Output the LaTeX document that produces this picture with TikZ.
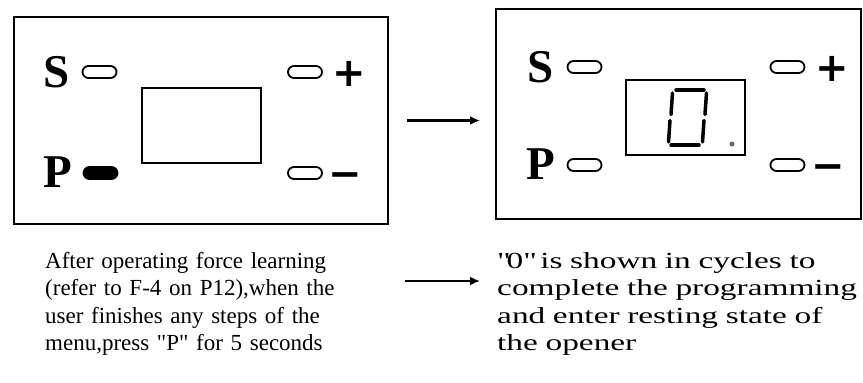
\documentclass[tikz,border=0pt]{standalone}
\usepackage{fontspec}
\setmainfont{Liberation Serif}
\newfontfamily\widefont{Liberation Serif}[FakeStretch=1.45]
\newfontfamily\signfont{DejaVu Sans}
\usetikzlibrary{positioning,arrows.meta}

\begin{document}
\begin{tikzpicture}[x=1pt, y=-1pt,
    panel/.style={draw, line width=2, inner sep=0, anchor=north west},
    lcd/.style={draw, line width=1.8, minimum width=119, minimum height=75, inner sep=0},
    key/.style={draw, line width=1.8, rounded corners=6, minimum width=34, minimum height=12, inner sep=0},
    keyon/.style={key, fill=black},
    keyname/.style={font=\fontsize{47}{47}\selectfont\bfseries, inner sep=0},
    sign/.style={font=\fontsize{40}{40}\signfont\bfseries, inner sep=0, anchor=base},
    note/.style={font=\fontsize{23}{27.5}\selectfont, align=left, anchor=north west, inner sep=0},
    segment/.style={line width=3.5, line cap=round},
    flow/.style={-{Latex[length=10,width=9]}, line width=2.5}]

    \useasboundingbox (0,0) rectangle (863,383);

    % Pannello prima: P tenuto premuto
    \node[panel, minimum width=374, minimum height=207] (panelA) at (13,16) {};
    \node[keyname] (sA) at (57,72) {S};
    \node[key] (skeyA) at (99.5,72) {};
    \node[keyname] (pA) at (58,172) {P};
    \node[keyon] (pkeyA) at (100.5,173) {};
    \node[lcd] (lcdA) at (201.5,125.5) {};
    \node[key] (pluskeyA) at (305,72) {};
    \node[sign] (plusA) at (349.5,86) {+};
    \node[key] (minuskeyA) at (305,173) {};
    \node[sign] (minusA) at (345,187) {−};

    % Pannello dopo: display con lo zero
    \node[panel, minimum width=365, minimum height=210] (panelB) at (495,8) {};
    \node[keyname] (sB) at (540.5,67) {S};
    \node[key] (skeyB) at (584.5,67) {};
    \node[keyname] (pB) at (541,164) {P};
    \node[key] (pkeyB) at (584.5,165) {};
    \node[lcd] (lcdB) at (685.5,117.5) {};
    \node[key] (pluskeyB) at (787.5,67) {};
    \node[sign] (plusB) at (832.5,81) {+};
    \node[key] (minuskeyB) at (787.5,165) {};
    \node[sign] (minusB) at (828.5,179) {−};

    % Cifra 0 a sette segmenti (inclinata) e punto decimale
    \draw[segment] (676,90) -- (704,90);
    \draw[segment] (706.5,93) -- (705,114.5);
    \draw[segment] (704,120.5) -- (702.5,142);
    \draw[segment] (671,145) -- (699,145);
    \draw[segment] (668.5,142) -- (670,120.5);
    \draw[segment] (671,114.5) -- (672.5,93);
    \fill[black!60] (732,144) circle (2.5);

    % Testi sotto i pannelli
    \node[note, text width=300] (noteA) at (45,252)
        {After operating force learning\\(refer to F-4 on P12),when the\\user finishes any steps of the\\menu,press \textquotedbl P\textquotedbl{} for 5 seconds};
    \node[note, text width=366] (noteB) at (497,252)
        {\widefont \textquotedbl 0\textquotedbl{} is shown in cycles to\\complete the programming\\and enter resting state of\\the opener};

    % Frecce
    \draw[flow, shorten <=18, shorten >=15] (panelA.east) -- (panelA.east -| panelB.west);
    \draw[flow, shorten <=60, shorten >=17] ([yshift=-29]noteA.north east) -- ([yshift=-29]noteA.north east -| noteB.west);

\end{tikzpicture}
\end{document}
